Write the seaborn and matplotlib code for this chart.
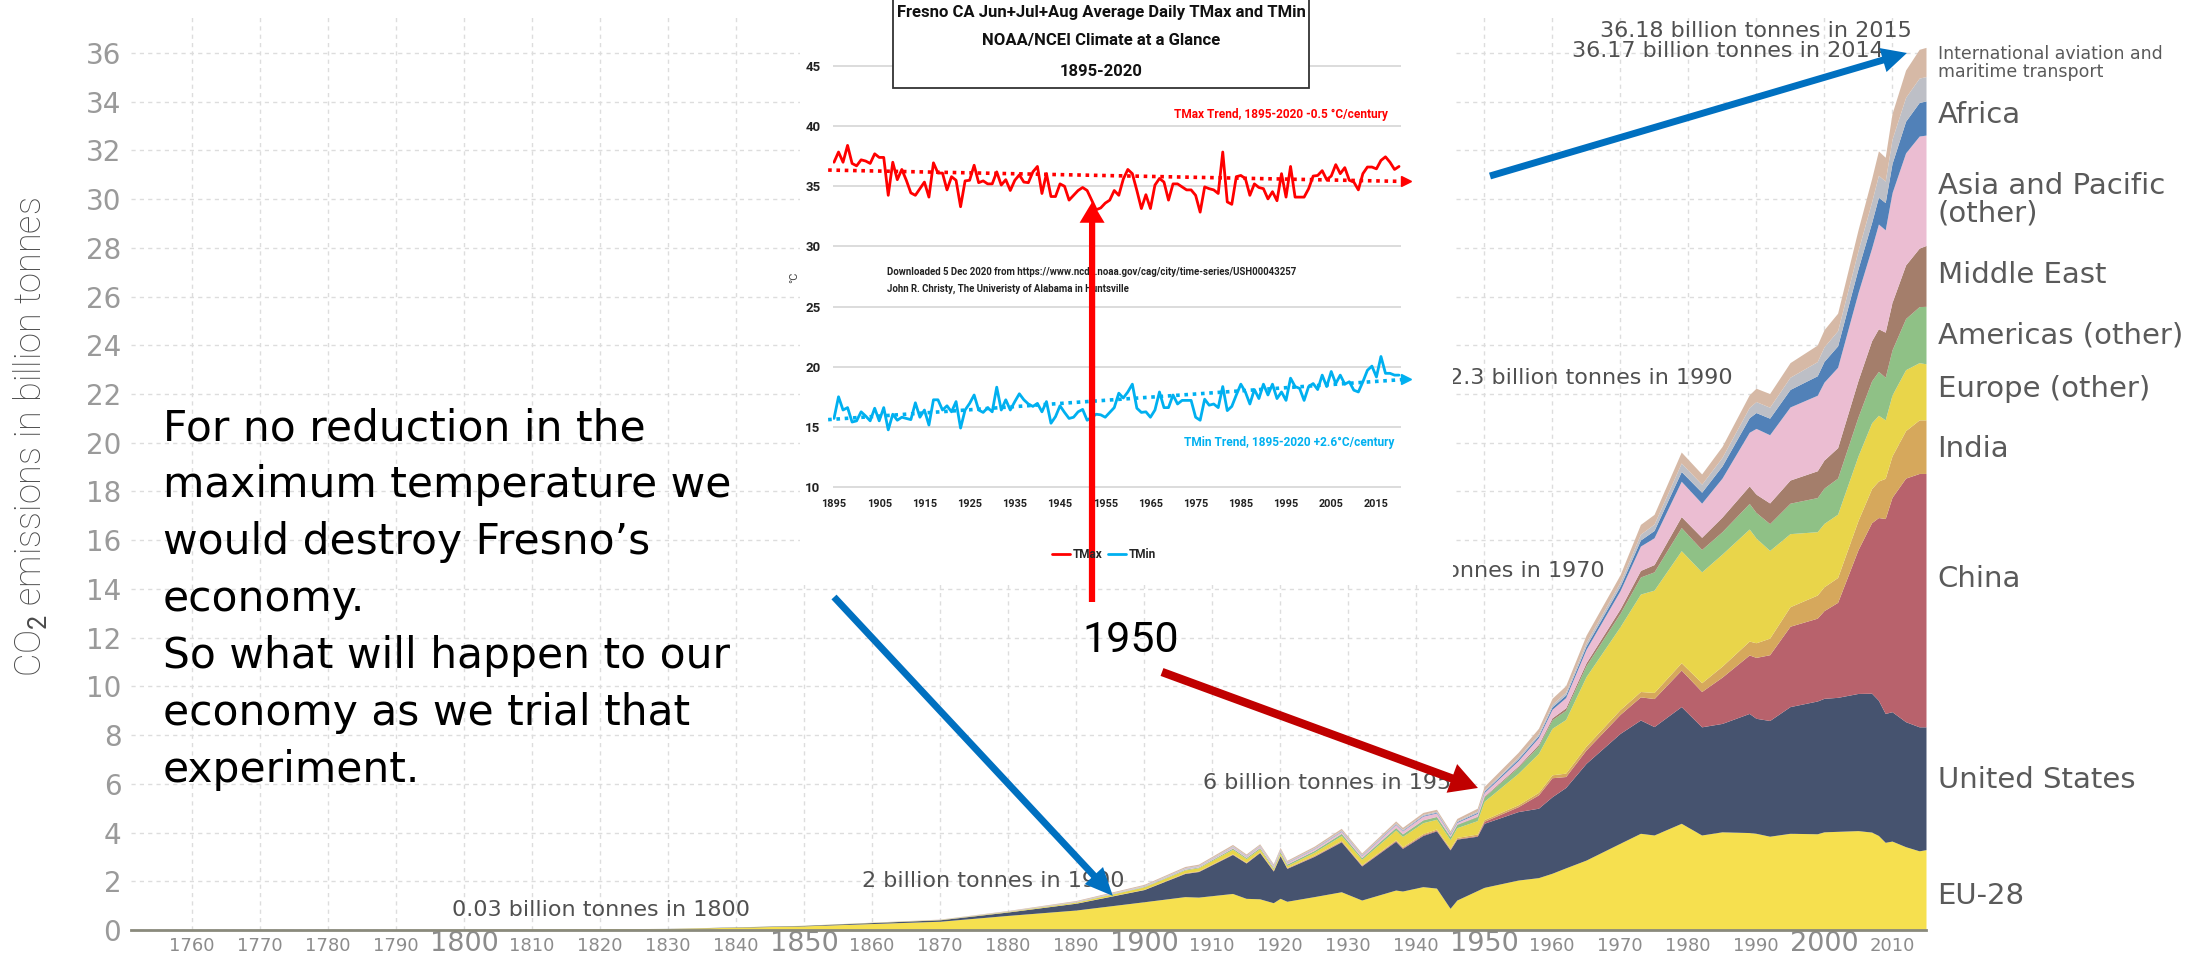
import matplotlib
matplotlib.use("Agg")
import pandas as pd
import matplotlib.pyplot as plt
from matplotlib import font_manager
from matplotlib.patches import Rectangle
import seaborn as sns

# =========================
# Data: CO2 emissions by world region (billion tonnes)
# =========================
years = [1751, 1800, 1830, 1850, 1870, 1880, 1890,
         1900, 1906, 1908, 1913, 1915, 1917, 1919, 1920, 1921,
         1925, 1929, 1932, 1937, 1938, 1941, 1943, 1945, 1946, 1949,
         1950, 1955, 1958, 1960, 1962, 1965,
         1970, 1973, 1975, 1979, 1982, 1985, 1989,
         1990, 1992, 1995, 1999,
         2000, 2002, 2005, 2007, 2008, 2009,
         2010, 2012, 2014, 2015]

eu28 = [0.009, 0.028, 0.06, 0.17, 0.36, 0.6, 0.82,
        1.16, 1.37, 1.35, 1.5, 1.3, 1.28, 1.12, 1.3, 1.18,
        1.37, 1.57, 1.23, 1.64, 1.6, 1.78, 1.72, 0.89, 1.23, 1.62,
        1.75, 2.05, 2.15, 2.33, 2.55, 2.87,
        3.56, 3.97, 3.9, 4.38, 3.9, 4.03, 4.0,
        3.97, 3.85, 3.97, 3.95,
        4.03, 4.05, 4.08, 4.02, 3.88, 3.6,
        3.65, 3.42, 3.25, 3.3]
united_states = [0.0, 0.001, 0.005, 0.02, 0.06, 0.14, 0.28,
                 0.5, 0.95, 1.05, 1.6, 1.45, 1.9, 1.3, 1.75, 1.35,
                 1.65, 2.05, 1.4, 2.0, 1.75, 2.1, 2.35, 2.4, 2.5, 2.23,
                 2.63, 2.81, 2.85, 3.14, 3.3, 3.97,
                 4.51, 4.65, 4.45, 4.79, 4.44, 4.45, 4.89,
                 4.72, 4.75, 5.2, 5.45,
                 5.48, 5.5, 5.63, 5.7, 5.55, 5.29,
                 5.31, 5.13, 5.09, 5.04]
china = [0, 0, 0, 0, 0, 0, 0,
         0.0, 0.01, 0.01, 0.01, 0.01, 0.01, 0.01, 0.01, 0.01,
         0.02, 0.02, 0.02, 0.03, 0.03, 0.03, 0.03, 0.02, 0.02, 0.03,
         0.08, 0.2, 0.55, 0.78, 0.45, 0.55,
         0.78, 0.95, 1.15, 1.5, 1.45, 1.9, 2.4,
         2.5, 2.7, 3.3, 3.4,
         3.6, 3.9, 5.9, 7.0, 7.5, 8.0,
         8.8, 10.0, 10.4, 10.4]
india = [0, 0, 0, 0, 0.001, 0.003, 0.005,
         0.01, 0.015, 0.016, 0.02, 0.02, 0.025, 0.025, 0.025, 0.025,
         0.03, 0.035, 0.03, 0.035, 0.04, 0.045, 0.045, 0.05, 0.05, 0.06,
         0.07, 0.08, 0.1, 0.12, 0.14, 0.16,
         0.2, 0.22, 0.25, 0.3, 0.36, 0.45, 0.57,
         0.6, 0.68, 0.8, 0.95,
         0.98, 1.02, 1.2, 1.4, 1.5, 1.65,
         1.7, 1.95, 2.2, 2.2]
europe_other = [0, 0, 0.001, 0.005, 0.01, 0.02, 0.04,
                0.1, 0.12, 0.13, 0.18, 0.15, 0.12, 0.06, 0.08, 0.08,
                0.12, 0.2, 0.22, 0.4, 0.42, 0.45, 0.4, 0.35, 0.4, 0.55,
                0.75, 1.29, 1.6, 1.91, 2.2, 2.85,
                3.4, 4.0, 4.2, 4.6, 4.55, 4.6, 4.6,
                4.3, 3.6, 3.0, 2.6,
                2.6, 2.6, 2.65, 2.7, 2.7, 2.4,
                2.5, 2.5, 2.35, 2.3]
americas_other = [0, 0, 0, 0, 0.002, 0.005, 0.01,
                  0.02, 0.03, 0.03, 0.05, 0.05, 0.05, 0.05, 0.06, 0.06,
                  0.07, 0.09, 0.07, 0.1, 0.1, 0.11, 0.11, 0.12, 0.13, 0.16,
                  0.18, 0.25, 0.3, 0.35, 0.38, 0.45,
                  0.55, 0.7, 0.75, 0.95, 0.92, 0.92, 1.05,
                  1.05, 1.1, 1.25, 1.4,
                  1.45, 1.48, 1.6, 1.72, 1.8, 1.75,
                  1.85, 2.1, 2.3, 2.36]
middle_east = [0, 0, 0, 0, 0, 0, 0,
               0.0, 0.0, 0.0, 0.002, 0.002, 0.002, 0.002, 0.003, 0.003,
               0.004, 0.005, 0.005, 0.008, 0.008, 0.01, 0.01, 0.012, 0.015, 0.02,
               0.03, 0.05, 0.07, 0.08, 0.1, 0.12,
               0.18, 0.27, 0.3, 0.45, 0.5, 0.6, 0.72,
               0.75, 0.85, 0.95, 1.1,
               1.15, 1.25, 1.5, 1.65, 1.75, 1.85,
               1.95, 2.2, 2.4, 2.5]
asia_pacific_other = [0, 0, 0, 0, 0.001, 0.005, 0.01,
                      0.02, 0.03, 0.035, 0.05, 0.05, 0.06, 0.06, 0.06, 0.06,
                      0.07, 0.08, 0.08, 0.12, 0.12, 0.15, 0.14, 0.08, 0.07, 0.12,
                      0.15, 0.22, 0.28, 0.35, 0.42, 0.55,
                      0.75, 1.0, 1.1, 1.45, 1.4, 1.6, 2.2,
                      2.7, 2.8, 3.0, 3.1,
                      3.2, 3.3, 3.6, 3.8, 4.3, 4.2,
                      4.5, 4.6, 4.6, 4.53]
africa = [0, 0, 0, 0, 0, 0.001, 0.002,
          0.005, 0.008, 0.008, 0.01, 0.01, 0.012, 0.012, 0.013, 0.013,
          0.015, 0.02, 0.018, 0.025, 0.025, 0.03, 0.03, 0.035, 0.035, 0.04,
          0.05, 0.07, 0.08, 0.1, 0.11, 0.14,
          0.18, 0.25, 0.3, 0.4, 0.45, 0.5, 0.6,
          0.65, 0.68, 0.72, 0.8,
          0.85, 0.88, 0.98, 1.05, 1.1, 1.12,
          1.2, 1.3, 1.38, 1.4]
other = [0, 0, 0, 0, 0.005, 0.01, 0.015,
         0.02, 0.025, 0.025, 0.03, 0.03, 0.03, 0.03, 0.03, 0.03,
         0.03, 0.035, 0.03, 0.04, 0.04, 0.04, 0.04, 0.04, 0.04, 0.05,
         0.05, 0.07, 0.08, 0.1, 0.11, 0.14,
         0.17, 0.24, 0.26, 0.35, 0.33, 0.35, 0.42,
         0.45, 0.45, 0.5, 0.58,
         0.6, 0.62, 0.75, 0.85, 0.9, 0.88,
         1.0, 0.98, 1.0, 1.0]
intl_transport = [0, 0, 0, 0, 0.01, 0.02, 0.03,
                  0.04, 0.05, 0.05, 0.06, 0.05, 0.05, 0.05, 0.06, 0.05,
                  0.06, 0.07, 0.06, 0.08, 0.08, 0.08, 0.08, 0.08, 0.09, 0.12,
                  0.15, 0.2, 0.22, 0.25, 0.27, 0.3,
                  0.3, 0.4, 0.4, 0.45, 0.42, 0.45, 0.52,
                  0.55, 0.56, 0.6, 0.68,
                  0.7, 0.72, 0.85, 0.95, 1.0, 0.98,
                  1.05, 1.12, 1.18, 1.2]

region_names = ["EU-28", "United States", "China", "India", "Europe (other)",
                "Americas (other)", "Middle East", "Asia and Pacific (other)",
                "Africa", "Other", "International transport"]
region_colors = ["#F6E04F", "#46536F", "#B8626C", "#D6A85C", "#E9D54A",
                 "#8FC186", "#A47E6B", "#EBBDD2", "#5181B8", "#BDBFC6", "#D6B9A6"]

decade_ticks = list(range(1760, 2011, 10))
y_ticks = list(range(0, 37, 2))

# Fresno inset: Jun+Jul+Aug average daily TMax / TMin (deg C)
fresno_years = list(range(1895, 2021))
tmax = [37.0, 37.85, 37.0, 38.4, 36.9, 36.7, 37.2, 37.1, 36.9, 37.7,
        37.4, 37.4, 34.25, 37.0, 35.55, 36.4, 35.5, 34.45, 34.25, 34.8,
        35.35, 34.1, 36.95, 36.1, 36.1, 34.7, 35.8, 35.5, 33.3, 35.45,
        35.5, 36.75, 35.3, 35.45, 35.2, 35.2, 36.2, 35.1, 35.55, 34.65,
        35.5, 35.95, 35.35, 35.3, 36.2, 36.65, 34.4, 36.05, 34.15, 34.15,
        35.2, 35.0, 33.85, 34.25, 34.65, 34.9, 34.65, 33.85, 33.05, 33.2,
        33.6, 33.85, 34.65, 34.25, 35.6,
        36.4, 36.05, 34.65, 33.15, 34.3, 33.15, 35.1, 35.65, 35.35, 33.85,
        35.2, 35.2, 34.95, 34.7, 34.7, 34.25, 32.85, 34.95, 34.8, 34.7,
        34.4, 37.85, 33.7, 33.5, 35.8, 35.9, 35.65, 34.25, 35.2, 34.9,
        34.8, 33.95, 34.55, 33.8, 36.05, 34.1, 36.65, 34.1, 34.1, 34.1,
        34.8, 35.85, 35.9, 36.3, 35.55, 35.85, 36.8, 36.05, 36.55, 35.5,
        35.35, 34.7, 36.05, 36.6, 36.6, 36.45, 37.15, 37.45, 37.0, 36.4, 36.65]
tmin = [15.7, 17.5, 16.4, 16.6, 15.4, 15.5, 16.25, 15.9, 15.5, 16.55,
        15.5, 16.6, 14.75, 16.05, 15.55, 15.8, 15.7, 15.6, 17.0, 15.8,
        16.4, 15.15, 17.25, 17.25, 16.4, 16.75, 16.25, 17.1, 14.9, 16.4,
        16.95, 17.65, 16.4, 16.2, 16.6, 16.25, 18.3, 16.4, 17.25, 16.4,
        17.1, 17.75, 17.25, 16.9, 16.7, 16.95, 16.25, 17.1, 15.3, 15.85,
        16.75, 16.2, 15.7, 15.8, 16.25, 16.45, 15.55, 15.8, 16.05, 16.0,
        15.8, 16.2, 16.6, 17.8, 17.4,
        17.9, 18.55, 16.55, 16.2, 16.25, 15.8, 16.4, 17.9, 16.6, 16.6,
        17.65, 16.9, 17.2, 17.2, 17.2, 15.8, 15.55, 17.3, 16.8, 16.9,
        16.6, 18.35, 16.35, 16.7, 17.65, 18.55, 17.9, 16.9, 18.1, 17.35,
        18.55, 17.65, 18.55, 17.35, 17.9, 17.2, 19.05, 18.35, 18.2, 17.2,
        18.35, 18.6, 18.1, 19.3, 18.35, 19.6, 18.6, 19.3, 18.55, 18.75,
        18.05, 17.9, 18.75, 19.7, 20.05, 19.15, 20.85, 19.45, 19.45, 19.3, 19.3]
trend_years = [1893.7, 2021.5]
tmax_trend = [36.35, 35.4]
tmin_trend = [15.6, 18.95]
inset_xticks = list(range(1895, 2016, 10))
inset_yticks = list(range(10, 46, 5))

df = pd.DataFrame({"year": years, "EU-28": eu28, "United States": united_states,
                   "China": china, "India": india, "Europe (other)": europe_other,
                   "Americas (other)": americas_other, "Middle East": middle_east,
                   "Asia and Pacific (other)": asia_pacific_other, "Africa": africa,
                   "Other": other, "International transport": intl_transport})
fresno = pd.DataFrame({"year": fresno_years, "TMax": tmax, "TMin": tmin})

# =========================
# Style
# =========================
sns.set_theme(style="white")
plt.rcParams["font.family"] = ["DejaVu Sans"]
installed = {f.name for f in font_manager.fontManager.ttflist}
NARROW = "Roboto" if "Roboto" in installed else "DejaVu Sans"
NS = 1.0 if NARROW != "DejaVu Sans" else 0.8
plt.rcParams["mathtext.fontset"] = "custom"
plt.rcParams["mathtext.rm"] = NARROW

W, H = 2203, 958
fig = plt.figure(figsize=(W / 100, H / 100), dpi=100)


def fx(px):
    return px / W


def fy(py):
    return 1 - py / H


# =========================
# Main stacked area chart
# =========================
ax = fig.add_axes([fx(131), fy(930), (1926 - 131) / W, (930 - 14) / H])
ax.stackplot(df["year"], [df[c] for c in region_names], colors=region_colors,
             linewidth=0, zorder=2)
ax.set_xlim(1751, 2015)
ax.set_ylim(0, 37.6)
ax.set_xticks(decade_ticks)
ax.set_yticks(y_ticks)
ax.grid(True, color="#dddddd", linestyle=(0, (3, 3)), linewidth=1)
ax.set_axisbelow(True)
for side in ["top", "right", "left"]:
    ax.spines[side].set_visible(False)
ax.spines["bottom"].set_color("#8a8a7c")
ax.spines["bottom"].set_linewidth(2)
ax.spines["bottom"].set_zorder(3)
ax.tick_params(axis="both", length=0)
ax.tick_params(axis="y", pad=7, labelsize=20, labelcolor="#9a9a9a")
ax.tick_params(axis="x", pad=15, labelcolor="#8c8c8c")
xlabels = ax.set_xticklabels([str(y) for y in decade_ticks])
for lbl, yr in zip(xlabels, decade_ticks):
    lbl.set_fontsize(19.5 if yr % 50 == 0 else 13)
    lbl.set_va("baseline")

fig.text(fx(30), fy(437), "CO$_{2}$ emissions in billion tonnes", rotation=90,
         fontsize=26 * NS, family=NARROW, weight="light", color="#4a4a4a",
         ha="center", va="center")

# value annotations
ann = [("36.18 billion tonnes in 2015", 2012.9, 36.9, "right"),
       ("36.17 billion tonnes in 2014", 2008.8, 36.08, "right"),
       ("22.3 billion tonnes in 1990", 1986.6, 22.66, "right"),
       ("14.9 billion tonnes in 1970", 1967.8, 14.74, "right"),
       ("6 billion tonnes in 1950", 1908.7, 6.03, "left"),
       ("2 billion tonnes in 1900", 1858.5, 2.01, "left"),
       ("0.03 billion tonnes in 1800", 1798.2, 0.82, "left")]
for txt, xv, yv, ha in ann:
    ax.text(xv, yv, txt, ha=ha, va="center", fontsize=16, color="#505050", zorder=4)

# region labels on the right
right_labels = [("International aviation and\nmaritime transport", 35.6, 12.5, 1.0),
                ("Africa", 33.46, 21, 1.0),
                ("Asia and Pacific\n(other)", 29.97, 21, 0.98),
                ("Middle East", 26.9, 21, 1.0),
                ("Americas (other)", 24.4, 21, 1.0),
                ("Europe (other)", 22.2, 21, 1.0),
                ("India", 19.75, 21, 1.0),
                ("China", 14.4, 21, 1.0),
                ("United States", 6.16, 21, 1.0),
                ("EU-28", 1.4, 21, 1.0)]
for txt, yv, fs, ls in right_labels:
    ax.text(2016.7, yv, txt, ha="left", va="center", fontsize=fs, color="#5a5a5a",
            linespacing=ls, clip_on=False)

# =========================
# Fresno inset
# =========================
fig.add_artist(Rectangle((fx(800), fy(585)), (1453 - 800) / W, 585 / H + 0.01,
                         transform=fig.transFigure, facecolor="white",
                         edgecolor="none", zorder=1))

ax_in = fig.add_axes([fx(833.1), fy(488.2), (1401.3 - 833.1) / W, (488.2 - 64.8) / H])
ax_in.set_zorder(2)
ax_in.patch.set_alpha(0)
sns.lineplot(data=fresno, x="year", y="TMax", ax=ax_in, color="#FF0000",
             linewidth=2, label="TMax")
sns.lineplot(data=fresno, x="year", y="TMin", ax=ax_in, color="#00B0F0",
             linewidth=2, label="TMin")
for vals, col in [(tmax_trend, "#FF0000"), (tmin_trend, "#00B0F0")]:
    ax_in.plot(trend_years, vals, color=col, linestyle=(0, (1, 1.3)), linewidth=2.6,
               clip_on=False)
    ax_in.plot(trend_years[-1:], vals[-1:], marker=">", markersize=7, color=col,
               linestyle="none", clip_on=False)

ax_in.set_xlim(1894.8, 2020.5)
ax_in.set_ylim(9.9, 45.1)
ax_in.set_xticks(inset_xticks)
ax_in.set_yticks(inset_yticks)
ax_in.set_xlabel("")
ax_in.set_ylabel("")
ax_in.grid(axis="y", color="#d9d9d9", linewidth=1.3)
ax_in.grid(axis="x", visible=False)
for side in ax_in.spines.values():
    side.set_visible(False)
ax_in.tick_params(axis="both", length=0, labelcolor="#222222")
ax_in.tick_params(axis="x", pad=8, labelsize=7.8 * NS)
ax_in.tick_params(axis="y", pad=9, labelsize=9.5 * NS)
for lbl in ax_in.get_xticklabels() + ax_in.get_yticklabels():
    lbl.set_fontfamily(NARROW)
    lbl.set_fontweight("bold")

handles, labels = ax_in.get_legend_handles_labels()
ax_in.legend(handles[:2], labels[:2], loc="center", bbox_to_anchor=(fx(1104), fy(555)),
             bbox_transform=fig.transFigure, ncol=2, frameon=False,
             prop=dict(family=NARROW, weight="bold", size=8.5 * NS),
             handlelength=1.5, handletextpad=0.2, columnspacing=0.5)

bold_small = dict(family=NARROW, weight="bold")
ax_in.text(2017.6, 41.0, "TMax Trend, 1895-2020 -0.5 °C/century", ha="right", va="center",
           color="#FF0000", fontsize=8.6 * NS, **bold_small)
ax_in.text(2019.1, 13.66, "TMin Trend, 1895-2020 +2.6°C/century", ha="right", va="center",
           color="#00B0F0", fontsize=8.6 * NS, **bold_small)
ax_in.text(1906.7, 27.87,
           "Downloaded 5 Dec 2020 from https://www.ncdc.noaa.gov/cag/city/time-series/USH00043257",
           ha="left", va="center", color="#222222", fontsize=6.9 * NS, **bold_small)
ax_in.text(1906.7, 26.46, "John R. Christy, The Univeristy of Alabama in Huntsville",
           ha="left", va="center", color="#222222", fontsize=6.9 * NS, **bold_small)
fig.text(fx(794), fy(277), "°C", rotation=90, ha="center", va="center",
         fontsize=8 * NS, color="#444444", family=NARROW, zorder=3)

# title box
fig.add_artist(Rectangle((fx(893), fy(88)), (1309 - 893) / W, 100 / H,
                         transform=fig.transFigure, facecolor="white",
                         edgecolor="#333333", linewidth=1.3, zorder=3))
for txt, py in [("Fresno CA Jun+Jul+Aug Average Daily TMax and TMin", 12),
                ("NOAA/NCEI Climate at a Glance", 41),
                ("1895-2020", 71)]:
    fig.text(fx(1101), fy(py), txt, ha="center", va="center", fontsize=12 * NS,
             color="#111111", zorder=4, **bold_small)

# =========================
# Arrows and commentary
# =========================
ax_in.annotate("", xy=(1952.1, 33.7), xytext=(fx(1092), fy(602)),
               textcoords="figure fraction", annotation_clip=False,
               arrowprops=dict(facecolor="#FF0000", edgecolor="none", width=4.5,
                               headwidth=18, headlength=15, shrink=0))
ax.annotate("", xy=(1949.1, 5.83), xytext=(fx(1162), fy(672)),
            textcoords="figure fraction", zorder=5,
            arrowprops=dict(facecolor="#C00000", edgecolor="none", width=6,
                            headwidth=22, headlength=20, shrink=0))
ax.annotate("", xy=(1895.4, 1.4), xytext=(fx(834), fy(597)),
            textcoords="figure fraction", zorder=5,
            arrowprops=dict(facecolor="#0070C0", edgecolor="none", width=5,
                            headwidth=18, headlength=20, shrink=0))
ax.annotate("", xy=(2012.2, 36.0), xytext=(fx(1490), fy(176)),
            textcoords="figure fraction", zorder=5,
            arrowprops=dict(facecolor="#0070C0", edgecolor="none", width=5,
                            headwidth=18, headlength=18, shrink=0))

fig.text(fx(1131), fy(640), "1950", fontsize=31 * NS, family=NARROW,
         ha="center", va="center", color="black", zorder=4)

comment = ("For no reduction in the\nmaximum temperature we\nwould destroy Fresno\u2019s\n"
           "economy.\nSo what will happen to our\neconomy as we trial that\nexperiment.")
fig.text(fx(163), fy(599), comment, fontsize=30.5, ha="left", va="center",
         linespacing=1.45, color="black", zorder=4)

fig.savefig("out.png", dpi=100)
